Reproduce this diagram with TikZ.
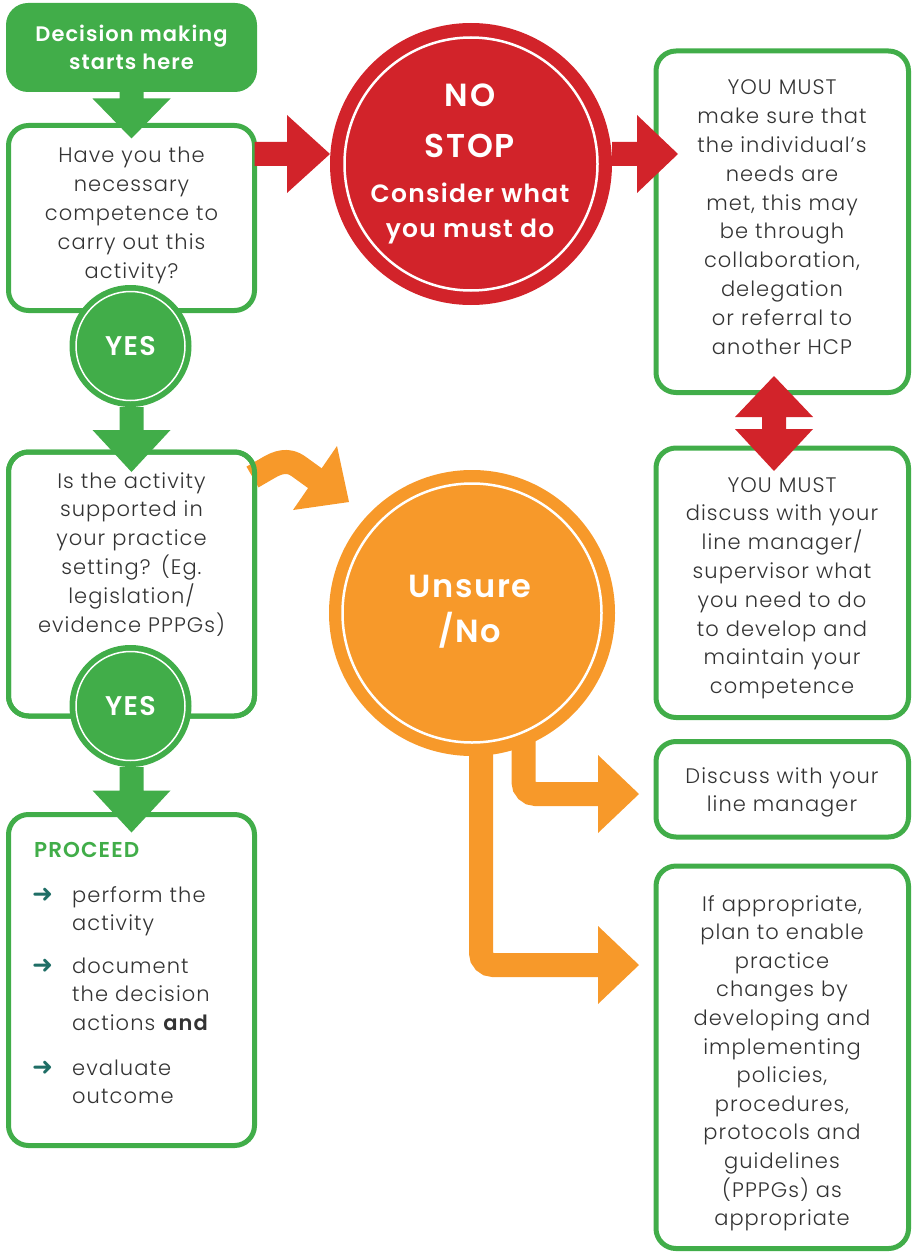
\documentclass[tikz,border=0pt]{standalone}
\usepackage{fontspec}
\setmainfont{Poppins}[UprightFont=* Light, BoldFont=* SemiBold, LetterSpace=5]
\newfontfamily\symfont{DejaVu Sans}
\usetikzlibrary{calc}
\definecolor{gr}{HTML}{41AD49}
\definecolor{rd}{HTML}{D2232A}
\definecolor{og}{HTML}{F7992A}
\definecolor{txt}{HTML}{333333}
\definecolor{tl}{HTML}{1F6E66}
% down arrow: style, start (gives y), tip, head length
\newcommand{\dnArrowFill}[4]{%
  \fill[#1] let \p1=#2, \p2=#3 in
    (\x2-12pt,\y1) -- (\x2+12pt,\y1) -- (\x2+12pt,\y2+#4) -- (\x2+39pt,\y2+#4)
    -- (\x2,\y2) -- (\x2-39pt,\y2+#4) -- (\x2-12pt,\y2+#4) -- cycle;}
% right arrow: style, start (gives x), tip, head length
\newcommand{\rtArrowFill}[4]{%
  \fill[#1] let \p1=#2, \p2=#3 in
    (\x1,\y2+12pt) -- (\x2-#4,\y2+12pt) -- (\x2-#4,\y2+39pt) -- (\x2,\y2)
    -- (\x2-#4,\y2-39pt) -- (\x2-#4,\y2-12pt) -- (\x1,\y2-12pt) -- cycle;}
\begin{document}
\begin{tikzpicture}[x=1pt,y=-1pt,
  gbox/.style={draw=gr, line width=5pt, rounded corners=20pt, rectangle, inner sep=0pt, outer sep=0pt},
  body/.style={font=\fontsize{21}{28.8}\selectfont, text=txt, text width=250pt, align=center, inner sep=0pt, anchor=base},
  bul/.style={font=\fontsize{21}{28.6}\selectfont, text=txt, text width=180pt, align=left, inner sep=0pt, anchor=base west},
  barrow/.style={font=\symfont\fontsize{25}{25}\selectfont, text=tl, inner sep=0pt, anchor=base west},
  ycirc/.style={circle, fill=gr, minimum size=122pt, inner sep=0pt, outer sep=0pt, text=white, font=\bfseries\fontsize{27}{27}\selectfont},
  ctxt/.style={text=white, inner sep=0pt, anchor=base},
  ostem/.style={draw=og, line width=24pt, rounded corners=12pt},
]
\useasboundingbox (0,0) rectangle (914,1252);

% ---- boxes ----
\node[gbox, fill=gr, draw=none, rounded corners=22pt, minimum width=251pt, minimum height=89pt,
      text=white, font=\bfseries\fontsize{21}{28}\selectfont, align=center] (s) at (131.5,47.5) {Decision making\\starts here};
\node[gbox, minimum width=246pt, minimum height=185pt] (b1) at (131.5,218) {};
\node[gbox, minimum width=246pt, minimum height=264pt] (b2) at (131.5,584) {};
\node[gbox, minimum width=246pt, minimum height=331pt] (b3) at (131.5,980) {};
\node[gbox, minimum width=252.5pt, minimum height=341.5pt] (b4) at (782.25,221.75) {};
\node[gbox, minimum width=252.5pt, minimum height=269.5pt] (b5) at (782.25,582.75) {};
\node[gbox, minimum width=252.5pt, minimum height=95.5pt] (b6) at (782.25,789.25) {};
\node[gbox, minimum width=252.5pt, minimum height=382.5pt] (b7) at (782.25,1057.25) {};

% orange curved arrow from box 2 to the orange circle
\coordinate (oc0) at ($(b2.north east)+(-2,25)$);
\draw[og, line width=24pt, line join=round] (oc0) -- (268,468) .. controls (278,462) and (288,459) .. (298,466) -- (316,479);
\coordinate (oatip) at (349,502);
\fill[og] (337,446) -- (oatip) -- (293,510) -- cycle;
% redraw box 2 border on top
\draw[draw=gr, line width=5pt, rounded corners=20pt] (b2.south west) rectangle (b2.north east);

% ---- orange stems (under the circle) ----
\coordinate (tip6) at ($(b6.west)+(-17,4.75)$);
\coordinate (tip7) at ($(b7.west)+(-17,-92.25)$);
\draw[ostem] ($(472,613)+(51.5,100)$) |- ($(tip6)+(-40,0)$);
\draw[ostem] ($(472,613)+(9,80)$) |- ($(tip7)+(-40,0)$);
\fill[og] let \p1=(tip6) in (\x1-41pt,\y1+39pt) -- (\x1,\y1) -- (\x1-41pt,\y1-39pt) -- cycle;
\fill[og] let \p1=(tip7) in (\x1-41pt,\y1+39pt) -- (\x1,\y1) -- (\x1-41pt,\y1-39pt) -- cycle;

% ---- circles ----
\node[ycirc] (y1) at (130.5,346) {YES};
\draw[white, line width=1.5pt] (y1.center) circle[radius=54.5pt];
\node[ycirc] (y2) at (130.5,706) {YES};
\draw[white, line width=1.5pt] (y2.center) circle[radius=54.5pt];
\node[circle, fill=rd, minimum size=282pt, inner sep=0pt, outer sep=0pt] (nc) at (471,164) {};
\draw[white, line width=2.5pt] (nc.center) circle[radius=126.5pt];
\node[circle, fill=og, minimum size=286pt, inner sep=0pt, outer sep=0pt] (oc) at (472,613) {};
\draw[white, line width=2.5pt] (oc.center) circle[radius=129.5pt];

% ---- green arrows ----
\dnArrowFill{gr}{(s.south)}{($(b1.north)+(0,13)$)}{40pt}
\dnArrowFill{gr}{(y1.south)}{($(b2.north)+(0,20)$)}{42pt}
\dnArrowFill{gr}{(y2.south)}{($(b3.north)+(0,18)$)}{42pt}

% ---- red arrows ----
\rtArrowFill{rd}{(b1.east)}{($(nc.west)+(0,-10)$)}{43pt}
\rtArrowFill{rd}{(nc.east)}{($(b4.west)+(22,-67.75)$)}{41pt}
\coordinate (da1) at ($(b4.south)+(-8.25,-16.5)$);
\coordinate (da2) at ($(b5.north)+(-8.25,23)$);
\fill[rd] let \p1=(da1), \p2=(da2) in (\x1,\y1) -- (\x1+39pt,\y1-41pt) -- (\x1+12pt,\y1-41pt)
  -- (\x1+12pt,\y2+42pt) -- (\x1+39pt,\y2+42pt) -- (\x1,\y2) -- (\x1-39pt,\y2+42pt)
  -- (\x1-12pt,\y2+42pt) -- (\x1-12pt,\y1-41pt) -- (\x1-39pt,\y1-41pt) -- cycle;

% ---- texts ----
\node[body] (t1) at (131.5,163) {Have you the\\necessary\\competence to\\carry out this\\activity?};
\node[body] (t2) at (131.5,488) {Is the activity\\supported in\\your practice\\setting? (Eg.\\legislation/\\evidence PPPGs)};
\node[body] (t4) at (782,95) {YOU MUST\\make sure that\\the individual’s\\needs are\\met, this may\\be through\\collaboration,\\delegation\\or referral to\\another HCP};
\node[body] (t5) at (782,492) {YOU MUST\\discuss with your\\line manager/\\supervisor what\\you need to do\\to develop and\\maintain your\\competence};
\node[body] (t6) at (782,783) {Discuss with your\\line manager};
\node[body, font=\fontsize{21}{28.6}\selectfont] (t7) at (782,911) {If appropriate,\\plan to enable\\practice\\changes by\\developing and\\implementing\\policies,\\procedures,\\protocols and\\guidelines\\(PPPGs) as\\appropriate};

\node[ctxt, font=\bfseries\fontsize{32}{32}\selectfont] (n1) at (470,107) {NO};
\node[ctxt, font=\bfseries\fontsize{33}{33}\selectfont] (n2) at (470,158) {STOP};
\node[ctxt, font=\bfseries\fontsize{25}{25}\selectfont] (n3) at (470,202) {Consider what};
\node[ctxt, font=\bfseries\fontsize{25}{25}\selectfont] (n4) at (470,237) {you must do};
\node[ctxt, font=\bfseries\fontsize{32}{32}\selectfont] (u1) at (470,597) {Unsure};
\node[ctxt, font=\bfseries\fontsize{32}{32}\selectfont] (u2) at (470,642) {/No};

\node[inner sep=0pt, anchor=base west, text=gr, font=\bfseries\fontsize{21.5}{21.5}\selectfont] (p0) at (34,857) {PROCEED};
\node[barrow] (a1) at (32,902) {➜};
\node[bul] (i1) at (72,902) {perform the\\activity};
\node[barrow] (a2) at (32,973) {➜};
\node[bul] (i2) at (72,973) {document\\the decision\\actions \textbf{and}};
\node[barrow] (a3) at (32,1075) {➜};
\node[bul] (i3) at (72,1075) {evaluate\\outcome};
\end{tikzpicture}
\end{document}
